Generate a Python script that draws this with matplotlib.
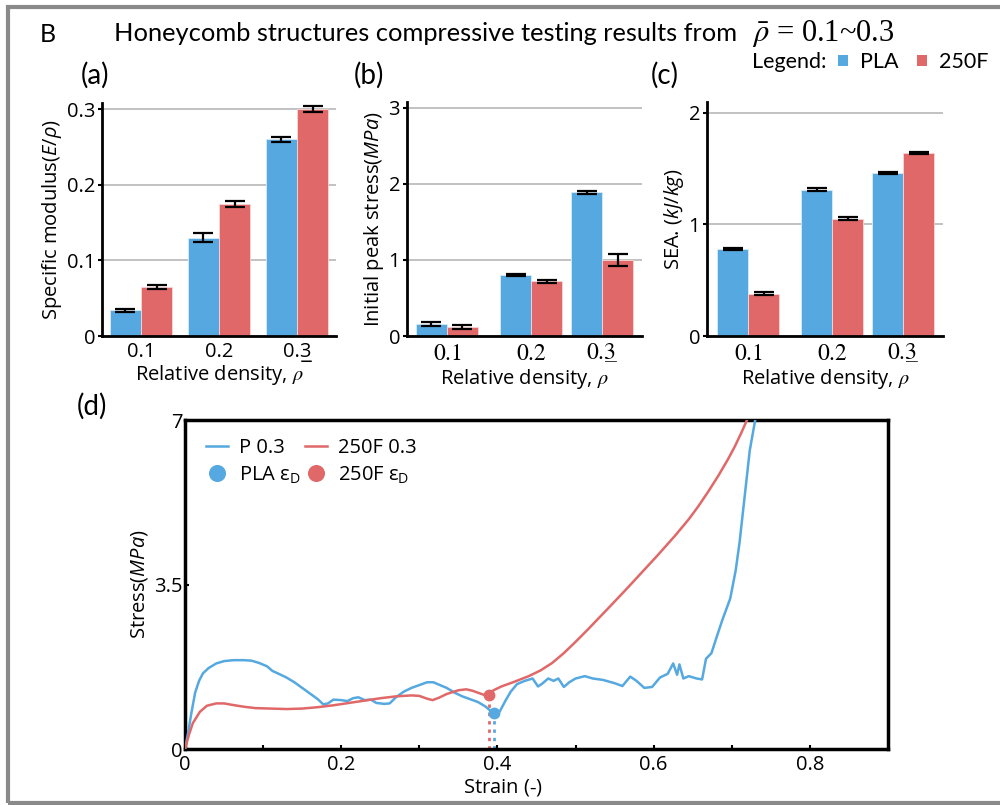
import matplotlib
matplotlib.use('Agg')
import matplotlib.pyplot as plt
from matplotlib.patches import Rectangle, Patch

plt.rcParams['font.family'] = ['Open Sans', 'DejaVu Sans']
plt.rcParams['mathtext.fontset'] = 'custom'
plt.rcParams['mathtext.rm'] = 'Open Sans'
plt.rcParams['mathtext.it'] = 'Open Sans:italic'
plt.rcParams['mathtext.bf'] = 'Open Sans:bold'

BLUE = '#55A8E0'
RED = '#E06868'
GRID = '#BDBDBD'

# ---------------- data ----------------
densities = ['0.1', '0.2', '0.3']
density_labels_sans = ['0.1', '0.2', '0.3\u0332']
density_labels_serif = [r'$\mathrm{0.1}$', r'$\mathrm{0.2}$', r'$\mathrm{0.3}\hspace{-0.66}\_$']

mod_pla = [0.034, 0.130, 0.260]
mod_pla_err = [0.002, 0.006, 0.003]
mod_250f = [0.065, 0.174, 0.300]
mod_250f_err = [0.003, 0.004, 0.004]

peak_pla = [0.16, 0.80, 1.89]
peak_pla_err = [0.025, 0.012, 0.018]
peak_250f = [0.12, 0.72, 1.00]
peak_250f_err = [0.025, 0.02, 0.08]

sea_pla = [0.78, 1.31, 1.46]
sea_pla_err = [0.012, 0.012, 0.010]
sea_250f = [0.38, 1.05, 1.64]
sea_250f_err = [0.012, 0.012, 0.012]

strain_pla = [0.000, 0.004, 0.008, 0.013, 0.018, 0.023, 0.030, 0.040, 0.050, 0.062,
              0.075, 0.085, 0.095, 0.105, 0.112, 0.120, 0.130, 0.140, 0.150, 0.160,
              0.170, 0.177, 0.183, 0.190, 0.200, 0.208, 0.215, 0.222, 0.230, 0.238,
              0.245, 0.255, 0.262, 0.270, 0.280, 0.290, 0.300, 0.310, 0.318, 0.325,
              0.335, 0.345, 0.355, 0.365, 0.375, 0.385, 0.392, 0.397, 0.403, 0.410,
              0.417, 0.425, 0.435, 0.445, 0.452, 0.458, 0.465, 0.472, 0.478, 0.485,
              0.492, 0.500, 0.512, 0.522, 0.535, 0.550, 0.560, 0.570, 0.578, 0.588,
              0.598, 0.608, 0.618, 0.625, 0.630, 0.633, 0.638, 0.645, 0.655, 0.662,
              0.667, 0.674, 0.680, 0.688, 0.698, 0.705, 0.710, 0.717, 0.723, 0.730,
              0.735]
stress_pla = [0.00, 0.35, 0.75, 1.20, 1.45, 1.61, 1.72, 1.82, 1.87, 1.89,
              1.89, 1.88, 1.83, 1.76, 1.66, 1.60, 1.52, 1.42, 1.30, 1.18,
              1.06, 0.95, 0.97, 1.05, 1.04, 1.02, 1.08, 1.10, 1.04, 1.05,
              0.98, 0.96, 0.97, 1.10, 1.22, 1.30, 1.36, 1.42, 1.42, 1.37,
              1.30, 1.20, 1.12, 1.06, 1.00, 0.90, 0.80, 0.76, 0.80, 1.02,
              1.22, 1.38, 1.45, 1.50, 1.33, 1.40, 1.50, 1.45, 1.50, 1.32,
              1.42, 1.50, 1.55, 1.50, 1.47, 1.40, 1.34, 1.54, 1.45, 1.30,
              1.32, 1.52, 1.60, 1.82, 1.58, 1.80, 1.50, 1.55, 1.50, 1.48,
              1.92, 2.04, 2.35, 2.75, 3.20, 3.80, 4.40, 5.45, 6.35, 7.00,
              7.40]

strain_250f = [0.000, 0.005, 0.010, 0.019, 0.028, 0.040, 0.050, 0.060, 0.075, 0.090,
               0.110, 0.130, 0.150, 0.170, 0.190, 0.210, 0.230, 0.250, 0.270, 0.290,
               0.300, 0.310, 0.317, 0.325, 0.335, 0.350, 0.360, 0.368, 0.378, 0.385,
               0.389, 0.395, 0.405, 0.420, 0.440, 0.455, 0.470, 0.485, 0.500, 0.515,
               0.530, 0.545, 0.565, 0.585, 0.605, 0.628, 0.645, 0.657, 0.670, 0.683,
               0.695, 0.704, 0.712, 0.720]
stress_250f = [0.00, 0.30, 0.55, 0.79, 0.92, 0.97, 0.97, 0.94, 0.90, 0.87,
               0.86, 0.85, 0.86, 0.89, 0.93, 0.98, 1.03, 1.08, 1.12, 1.14,
               1.13, 1.07, 1.04, 1.09, 1.17, 1.25, 1.27, 1.24, 1.18, 1.14,
               1.15, 1.25, 1.33, 1.42, 1.55, 1.67, 1.83, 2.04, 2.28, 2.53,
               2.79, 3.05, 3.40, 3.76, 4.12, 4.55, 4.89, 5.16, 5.48, 5.82,
               6.16, 6.44, 6.72, 7.02]

densification_strain = [0.396, 0.389]   # PLA, 250F
densification_stress = [0.76, 1.15]

# ---------------- figure ----------------
fig = plt.figure(figsize=(10, 8.05), dpi=100)

# border
fig.add_artist(Rectangle((0.008, 0.0025), 1.2, 0.9888, transform=fig.transFigure,
                         fill=False, edgecolor='#8a8a8a', linewidth=3, clip_on=False))

fig.text(0.040, 0.957, 'B', fontsize=18, family='Lato', va='center', ha='left')
fig.text(0.114, 0.958, 'Honeycomb structures compressive testing results from',
         fontsize=18.3, family='Lato', va='center', ha='left')
fig.text(0.752, 0.958, r'$\bar{\rho}$ = 0.1~0.3', fontsize=22, family='Liberation Serif',
         math_fontfamily='stix', va='center', ha='left')

fig.text(0.752, 0.923, 'Legend:', fontsize=15.5, family='Lato', va='center', ha='left')
fig.legend(handles=[Patch(facecolor=BLUE), Patch(facecolor=RED)], labels=['PLA', '250F'],
           loc='center left', bbox_to_anchor=(0.838, 0.923), ncol=2, frameon=False,
           prop={'family': 'Lato', 'size': 15.5}, handlelength=0.45, handleheight=0.45,
           handletextpad=0.55, columnspacing=0.9, borderpad=0, borderaxespad=0)

for lab, x, y in [('(a)', 0.081, 0.907), ('(b)', 0.354, 0.907), ('(c)', 0.651, 0.907),
                  ('(d)', 0.077, 0.495)]:
    fig.text(x, y, lab, fontsize=20, family='Lato', va='center', ha='left')


def bar_panel(rect, xpos, xlim, pla, pla_err, f, f_err, ylim, yticks, yticklabels,
              ylabel, serif_ticks):
    ax = fig.add_axes(rect)
    w = 0.4
    ekw = dict(ecolor='black', elinewidth=1.6, capsize=7, capthick=1.6)
    ax.bar([p - w / 2 for p in xpos], pla, width=w, yerr=pla_err, color=BLUE,
           edgecolor='#d8ecf8', linewidth=0.6, error_kw=ekw, zorder=2)
    ax.bar([p + w / 2 for p in xpos], f, width=w, yerr=f_err, color=RED,
           edgecolor='#f6d6d6', linewidth=0.6, error_kw=ekw, zorder=2)
    ax.set_xlim(*xlim)
    ax.set_ylim(*ylim)
    ax.set_yticks(yticks)
    ax.set_yticklabels(yticklabels)
    ax.set_xticks(xpos)
    if serif_ticks:
        ax.set_xticklabels(density_labels_serif, math_fontfamily='stix', fontsize=17)
    else:
        ax.set_xticklabels(density_labels_sans, fontsize=14.5)
    ax.yaxis.grid(True, color=GRID, linewidth=1.3)
    ax.set_axisbelow(True)
    for s in ['top', 'right']:
        ax.spines[s].set_visible(False)
    for s in ['left', 'bottom']:
        ax.spines[s].set_linewidth(2)
        ax.spines[s].set_zorder(3)
    ax.tick_params(axis='y', length=3, width=1.5, labelsize=14.5, pad=2)
    ax.tick_params(axis='x', length=0, pad=4)
    ax.set_ylabel(ylabel, fontsize=14.5, labelpad=2)
    ax.set_xlabel(r'Relative density, $\rho$', fontsize=14.5, labelpad=1,
                  math_fontfamily='stix')
    return ax


bottom = 1 - 336 / 805
bar_panel([0.102, bottom, 0.234, 0.2894], [0, 1, 2], (-0.5, 2.5),
          mod_pla, mod_pla_err, mod_250f, mod_250f_err, (0, 0.308),
          [0, 0.1, 0.2, 0.3], ['0', '0.1', '0.2', '0.3'],
          r'Specific modulus($E/\rho$)', False)
bar_panel([0.407, bottom, 0.235, 0.2911], [0, 1.084, 2.0], (-0.516, 2.516),
          peak_pla, peak_pla_err, peak_250f, peak_250f_err, (0, 3.08),
          [0, 1, 2, 3], ['0', '1', '2', '3'],
          r'Initial peak stress($MPa$)', True)
bar_panel([0.707, bottom, 0.236, 0.2911], [0, 1.084, 2.0], (-0.53, 2.516),
          sea_pla, sea_pla_err, sea_250f, sea_250f_err, (0, 2.1),
          [0, 1, 2], ['0', '1', '2'],
          r'SEA. ($kJ/kg$)', True)

# ---------------- panel d ----------------
axd = fig.add_axes([0.185, 1 - 749 / 805, 0.703, (749 - 420) / 805])
lp, = axd.plot(strain_pla, stress_pla, color=BLUE, lw=1.8, label='P 0.3', zorder=3)
lf, = axd.plot(strain_250f, stress_250f, color=RED, lw=1.8, label='250F 0.3', zorder=3)
mp, = axd.plot([densification_strain[0]], [densification_stress[0]], 'o', color=BLUE,
               ms=7.5, label=r'PLA ε$_{\mathrm{D}}$', zorder=4)
mf, = axd.plot([densification_strain[1]], [densification_stress[1]], 'o', color=RED,
               ms=7.5, label=r'250F ε$_{\mathrm{D}}$', zorder=4)
axd.vlines([densification_strain[0]], 0, [densification_stress[0]], colors=BLUE,
           linestyles=(0, (1.2, 1.8)), lw=2, zorder=2)
axd.vlines([densification_strain[1]], 0, [densification_stress[1]], colors=RED,
           linestyles=(0, (1.2, 1.8)), lw=2, zorder=2)
axd.set_xlim(0, 0.9)
axd.set_ylim(0, 7)
axd.set_xticks([0, 0.2, 0.4, 0.6, 0.8])
axd.set_xticklabels(['0', '0.2', '0.4', '0.6', '0.8'])
axd.set_xticks([0.1, 0.3, 0.5, 0.7], minor=True)
axd.set_yticks([0, 3.5, 7])
axd.set_yticklabels(['0', '3.5', '7'])
axd.tick_params(which='both', direction='in', length=3, width=1.5, labelsize=14.5)
axd.tick_params(axis='y', pad=2)
axd.tick_params(axis='x', pad=4)
for s in axd.spines.values():
    s.set_linewidth(2.5)
axd.set_ylabel(r'Stress($MPa$)', fontsize=14.5)
axd.yaxis.set_label_coords(-0.05, 0.5)
axd.set_xlabel('Strain $\\mathit{(\u2010)}$', fontsize=14.5)
axd.xaxis.set_label_coords(0.452, -0.085)
axd.legend(handles=[lp, mp, lf, mf], ncol=2, loc='upper left',
           bbox_to_anchor=(0.016, 0.975), frameon=False, fontsize=14.5,
           handlelength=1.1, handletextpad=0.5, columnspacing=0.25,
           labelspacing=0.3, borderpad=0, markerscale=1.5)

fig.savefig('out.png', dpi=100)
